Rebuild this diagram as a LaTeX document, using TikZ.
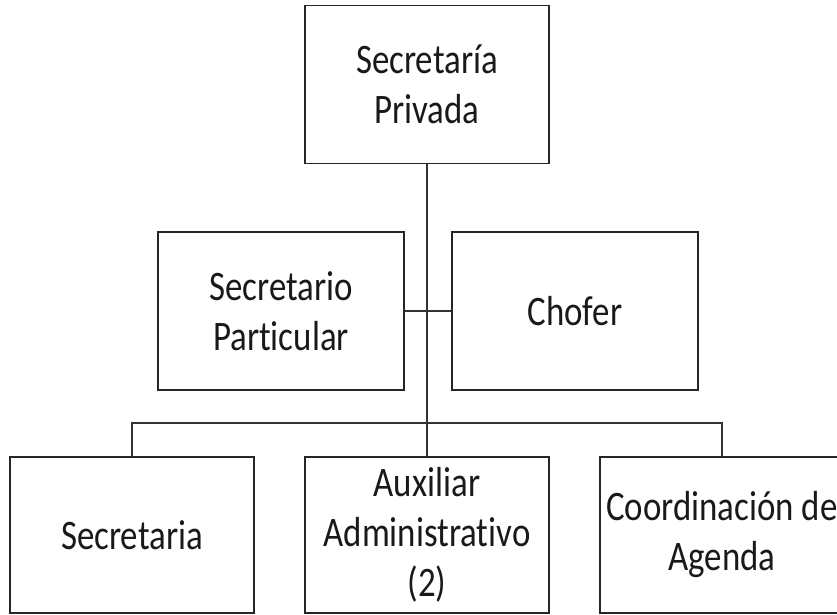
\documentclass[tikz,border=0pt]{standalone}
\usepackage{fontspec}
\setmainfont[FakeStretch=0.83,Ligatures=NoCommon]{Carlito}
\begin{document}
\begin{tikzpicture}[x=1pt,y=-1pt,
  box/.style={draw=black!85,line width=1.3pt,minimum width=244pt,minimum height=158pt,inner sep=0pt,
    align=center,text=black!90,font=\fontsize{42}{50}\selectfont},
  wire/.style={draw=black!80,line width=1.3pt}]
\useasboundingbox (0,0) rectangle (837,615);
\clip (0,0) rectangle (837,615);
\node[box] (top) at (427,84.5) {Secretaría\\Privada};
\node[box,minimum width=246pt] (sp) at (281,311) {Secretario\\Particular};
\node[box,minimum width=246pt] (ch) at (575,311) {Chofer};
\node[box,minimum height=156pt] (sec) at (132,535) {Secretaria};
\node[box,minimum height=156pt] (aux) at (427,535) {Auxiliar\\Administrativo\\(2)};
\node[box,minimum height=156pt] (coord) at (722,535) {Coordinación de\\Agenda};
\coordinate (j) at (427,423);
\draw[wire] (top.south) -- (j);
\draw[wire] (sp.east) -- (ch.west);
\draw[wire] (sec.north) |- (j) -| (coord.north);
\draw[wire] (j) -- (aux.north);
\end{tikzpicture}
\end{document}
